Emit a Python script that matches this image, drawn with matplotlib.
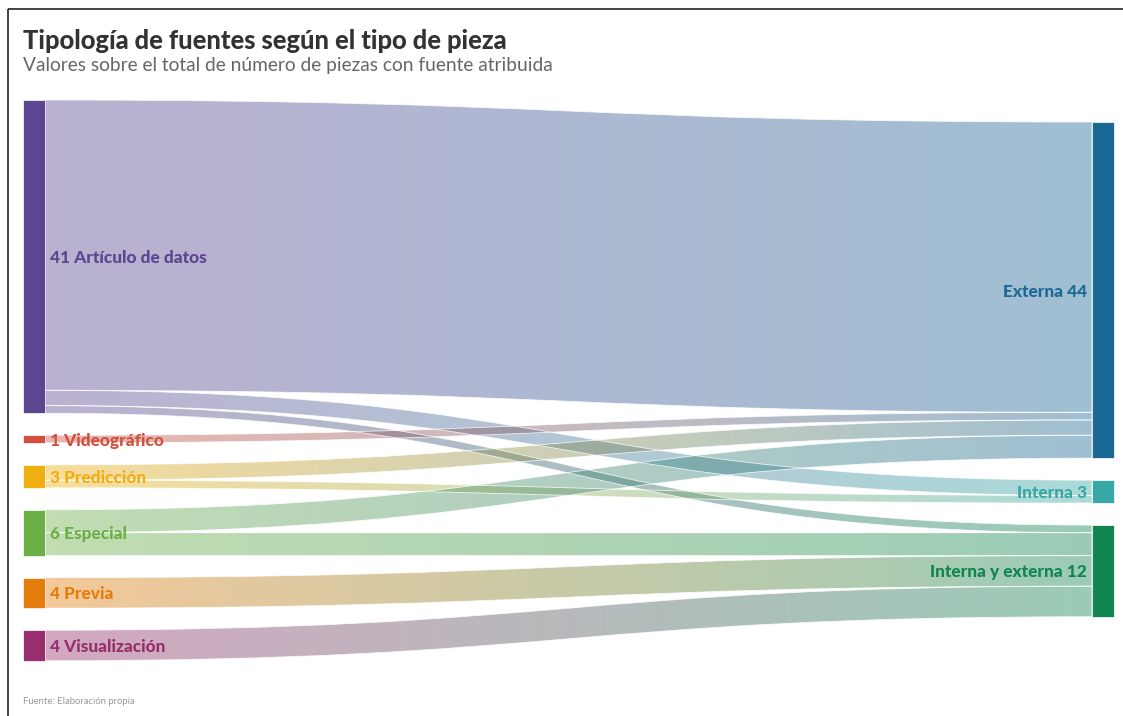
import numpy as np
import matplotlib
matplotlib.use("Agg")
import matplotlib.pyplot as plt
from matplotlib.path import Path
from matplotlib.patches import PathPatch, Rectangle
from matplotlib.colors import to_rgb

# source nodes (left) and target nodes (right)
sources = ["Artículo de datos", "Videográfico", "Predicción", "Especial", "Previa", "Visualización"]
source_colors = ["#5c4591", "#d1503f", "#efaf10", "#6daf47", "#e57d0c", "#972f6c"]
targets = ["Externa", "Interna", "Interna y externa"]
target_colors = ["#1c6895", "#38a8a6", "#108552"]

# flows: source index, target index, number of pieces
link_src = [0, 0, 0, 1, 2, 2, 3, 3, 4, 5]
link_tgt = [0, 1, 2, 0, 0, 1, 0, 2, 2, 2]
link_val = [38, 2, 1, 1, 2, 1, 3, 3, 4, 4]

W, H = 1123, 716
fig = plt.figure(figsize=(W / 100, H / 100), dpi=100)
ax = fig.add_axes([0, 0, 1, 1])
ax.set_xlim(0, W)
ax.set_ylim(H, 0)
ax.axis("off")

plt.rcParams["font.family"] = ["Lato", "DejaVu Sans"]

# layout (pixels)
k = 7.64          # px per piece
gap = 22
x_left, x_right, node_w = 23, 1092, 22
left_top, right_top = 100, 122

src_tot = [sum(v for s, v in zip(link_src, link_val) if s == i) for i in range(len(sources))]
tgt_tot = [sum(v for t, v in zip(link_tgt, link_val) if t == i) for i in range(len(targets))]

src_y = []
y = left_top
for v in src_tot:
    src_y.append(y)
    y += v * k + gap
tgt_y = []
y = right_top
for v in tgt_tot:
    tgt_y.append(y)
    y += v * k + gap

# offsets inside nodes: outgoing sorted by target, incoming sorted by source
order = sorted(range(len(link_val)), key=lambda i: (link_src[i], link_tgt[i]))
s_off = list(src_y)
y0s = {}
for i in order:
    y0s[i] = s_off[link_src[i]]
    s_off[link_src[i]] += link_val[i] * k
order = sorted(range(len(link_val)), key=lambda i: (link_tgt[i], link_src[i]))
t_off = list(tgt_y)
y1s = {}
for i in order:
    y1s[i] = t_off[link_tgt[i]]
    t_off[link_tgt[i]] += link_val[i] * k

xa = x_left + node_w
xb = x_right
xm = (xa + xb) / 2
for i in range(len(link_val)):
    h = link_val[i] * k
    a0, b0 = y0s[i], y1s[i]
    verts = [(xa, a0), (xm, a0), (xm, b0), (xb, b0),
             (xb, b0 + h),
             (xm, b0 + h), (xm, a0 + h), (xa, a0 + h),
             (xa, a0)]
    codes = [Path.MOVETO, Path.CURVE4, Path.CURVE4, Path.CURVE4,
             Path.LINETO,
             Path.CURVE4, Path.CURVE4, Path.CURVE4,
             Path.CLOSEPOLY]
    patch = PathPatch(Path(verts, codes), facecolor="none", edgecolor="white",
                      lw=0.6, alpha=0.8, zorder=3)
    ax.add_patch(patch)
    c0 = np.array(to_rgb(source_colors[link_src[i]]))
    c1 = np.array(to_rgb(target_colors[link_tgt[i]]))
    t = np.linspace(0, 1, 256)[:, None]
    grad = np.ones((1, 256, 4))
    grad[0, :, :3] = c0 * (1 - t) + c1 * t
    grad[0, :, 3] = 0.42
    ymin, ymax = min(a0, b0), max(a0, b0) + h
    im = ax.imshow(grad, extent=[xa, xb, ymax, ymin], aspect="auto",
                   interpolation="bilinear", zorder=2)
    im.set_clip_path(patch)

ax.set_xlim(0, W)
ax.set_ylim(H, 0)

# nodes and labels
for name, col, y0, v in zip(sources, source_colors, src_y, src_tot):
    ax.add_patch(Rectangle((x_left, y0), node_w, v * k, facecolor=col,
                           edgecolor="white", lw=0.5, zorder=4))
    ax.text(x_left + node_w + 5, y0 + v * k / 2 + 1.5, f"{v} {name}", color=col,
            fontsize=12.4, fontweight="black", va="center", ha="left", zorder=5)
for name, col, y0, v in zip(targets, target_colors, tgt_y, tgt_tot):
    ax.add_patch(Rectangle((x_right, y0), node_w, v * k, facecolor=col,
                           edgecolor="white", lw=0.5, zorder=4))
    ax.text(x_right - 5, y0 + v * k / 2 + 1.5, f"{name} {v}", color=col,
            fontsize=12.4, fontweight="black", va="center", ha="right", zorder=5)

# titles and frame
ax.text(23, 41, "Tipología de fuentes según el tipo de pieza", fontsize=18.4,
        fontweight="black", color="#333333", va="center", ha="left")
ax.text(23, 66, "Valores sobre el total de número de piezas con fuente atribuida",
        fontsize=13.8, color="#666666", va="center", ha="left")
ax.text(23, 701, "Fuente: Elaboración propia", fontsize=6.8, color="#999999",
        va="center", ha="left")
ax.plot([8, W], [9, 9], color="#222222", lw=1.2, solid_capstyle="butt")
ax.plot([8, 8], [9, H], color="#222222", lw=1.2, solid_capstyle="butt")

fig.savefig("out.png", dpi=100)
